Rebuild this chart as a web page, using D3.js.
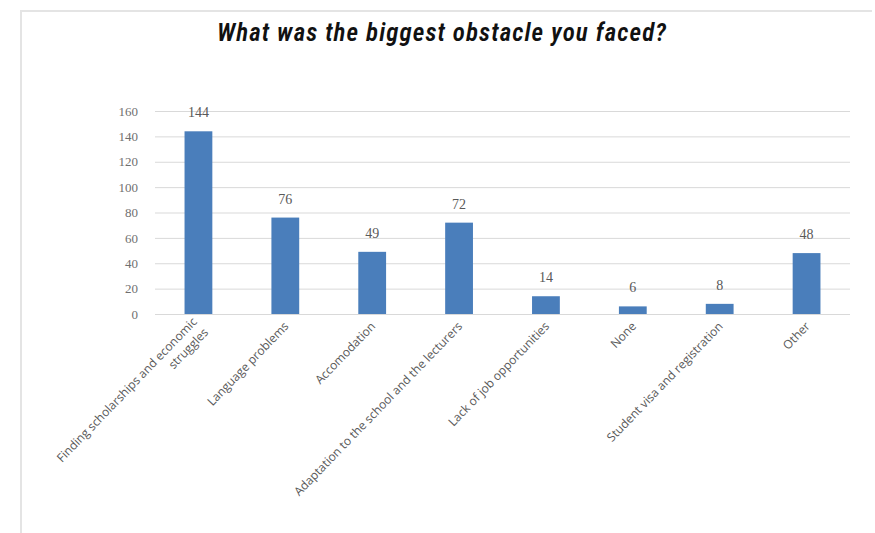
<!DOCTYPE html>
<html>
<head>
<meta charset="utf-8">
<script src="https://cdn.jsdelivr.net/npm/d3@7/dist/d3.min.js"></script>
<style>
  html, body { margin: 0; padding: 0; background: #fff; }
  svg { display: block; }
</style>
</head>
<body>
<svg id="chart" width="875" height="533"></svg>
<script>
// Survey answers: biggest obstacle faced
const categories = [
  ["Finding scholarships and economic", "struggles"],
  ["Language problems"],
  ["Accomodation"],
  ["Adaptation to the school and the lecturers"],
  ["Lack of job opportunities"],
  ["None"],
  ["Student visa and registration"],
  ["Other"]
];
const counts = [144, 76, 49, 72, 14, 6, 8, 48];
const yTicks = [0, 20, 40, 60, 80, 100, 120, 140, 160];
const titleText = "What was the biggest obstacle you faced?";

const svg = d3.select("#chart");
const plot = { left: 155, right: 850, top: 111, bottom: 314 };

// light frame along the top and left edges
svg.append("path")
  .attr("d", `M21,533 V11 H872`)
  .attr("fill", "none")
  .attr("stroke", "#e4e4e4")
  .attr("stroke-width", 2);

svg.append("text")
  .attr("x", 442)
  .attr("y", 41)
  .attr("text-anchor", "middle")
  .style("font-family", "'Roboto Condensed', 'Liberation Sans Narrow', 'Open Sans', sans-serif")
  .style("font-style", "italic")
  .style("font-weight", "600")
  .style("font-size", "25px")
  .style("letter-spacing", "1.1px")
  .attr("fill", "#111")
  .text(titleText);

const keys = categories.map((c, i) => i);
const x = d3.scaleBand().domain(keys).range([plot.left, plot.right]).paddingInner(0.68).paddingOuter(0.34);
const y = d3.scaleLinear().domain([0, 160]).range([plot.bottom, plot.top]);

// horizontal gridlines
const yAxis = d3.axisLeft(y).tickValues(yTicks).tickSize(-(plot.right - plot.left)).tickPadding(17);
const gy = svg.append("g").attr("transform", `translate(${plot.left},0)`).call(yAxis);
gy.select(".domain").remove();
gy.selectAll(".tick line").attr("stroke", "#d9d9d9").attr("stroke-width", 1);
gy.selectAll(".tick text")
  .attr("fill", "#6f6f6f")
  .style("font-family", "'Liberation Serif', 'DejaVu Serif', serif")
  .style("font-size", "13px");

// bars
svg.append("g").selectAll("rect")
  .data(counts)
  .join("rect")
  .attr("x", (d, i) => x(i))
  .attr("y", d => y(d))
  .attr("width", x.bandwidth())
  .attr("height", d => y(0) - y(d))
  .attr("fill", "#4a7ebb");

// value labels
svg.append("g").selectAll("text")
  .data(counts)
  .join("text")
  .attr("x", (d, i) => x(i) + x.bandwidth() / 2)
  .attr("y", d => y(d) - 14)
  .attr("text-anchor", "middle")
  .attr("fill", "#595959")
  .style("font-family", "'Liberation Serif', 'DejaVu Serif', serif")
  .style("font-size", "14px")
  .text(d => d);

// rotated category labels
const lab = svg.append("g").selectAll("text")
  .data(categories)
  .join("text")
  .attr("transform", (d, i) => {
    const cx = x(i) + x.bandwidth() / 2 + 1;
    return `translate(${cx},${plot.bottom + 10}) rotate(-46)`;
  })
  .attr("text-anchor", "end")
  .attr("fill", "#595959")
  .style("font-family", "'Open Sans', 'Noto Sans', sans-serif")
  .style("font-size", "12px");

lab.each(function(lines) {
  const t = d3.select(this);
  const n = lines.length;
  lines.forEach((ln, k) => {
    t.append("tspan")
      .attr("x", 0)
      .attr("dy", k === 0 ? `${0.35 - (n - 1) * 0.55}em` : "1.3em")
      .text(ln);
  });
});
</script>
</body>
</html>
